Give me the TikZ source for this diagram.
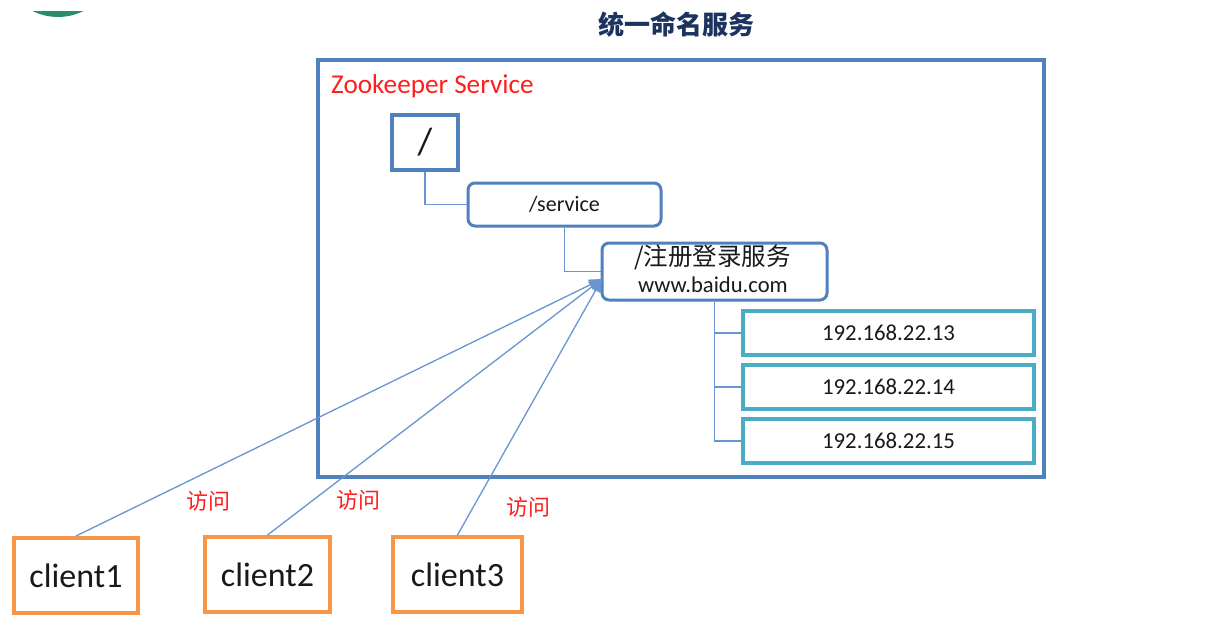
\documentclass[tikz,border=0pt]{standalone}
\usepackage{fontspec}
\setmainfont{Carlito}
\newfontfamily\cjk{Noto Sans CJK SC}
\usetikzlibrary{arrows.meta}
\definecolor{zkblue}{RGB}{79,129,189}
\definecolor{lnblue}{RGB}{105,150,210}
\definecolor{ipteal}{RGB}{75,172,198}
\definecolor{clorange}{RGB}{247,150,70}
\definecolor{titlenavy}{RGB}{28,50,95}
\definecolor{logogreen}{RGB}{40,140,110}
\definecolor{redtxt}{RGB}{255,30,30}
\definecolor{txtblack}{RGB}{25,25,25}
\tikzset{
  zkbox/.style={draw=zkblue, line width=3pt, inner sep=0pt},
  roundbox/.style={draw=zkblue, line width=3pt, rounded corners=7pt, inner sep=0pt, fill=white},
  ipbox/.style={draw=ipteal, line width=4pt, inner sep=0pt, minimum width=291pt, minimum height=44pt,
     font=\fontsize{22.8}{26}\selectfont, text=txtblack},
  clbox/.style={draw=clorange, line width=4pt, inner sep=0pt, minimum height=75pt,
     font=\fontsize{34}{40}\selectfont, text=txtblack},
  conn/.style={draw=lnblue, line width=1.3pt},
  acc/.style={draw=lnblue, line width=1.3pt, -{Triangle[length=13pt,width=11pt]}},
  redlabel/.style={text=redtxt, font=\cjk\fontsize{22}{24}\selectfont, inner sep=0pt},
}
\begin{document}
\begin{tikzpicture}[x=1pt,y=-1pt]
\useasboundingbox[fill=white] (0,0) rectangle (1214,621);
% logo fragment
\begin{scope}
  \clip (0,11) rectangle (140,30);
  \fill[logogreen] (58,-40) circle (57);
\end{scope}
% title
\node[text=titlenavy, font=\cjk\bfseries\fontsize{26}{30}\selectfont, inner sep=0pt] (title) at (676,25) {统一命名服务};
% outer service box
\node[zkbox, line width=3.6pt, minimum width=726pt, minimum height=417pt] (zk) at (681,268.5) {};
\node[text=redtxt, font=\fontsize{27.2}{30}\selectfont, anchor=base west, inner sep=0pt] (zklabel) at (331,93) {Zookeeper Service};
% tree nodes
\node[zkbox, line width=3.5pt, minimum width=66pt, minimum height=55pt, font=\fontsize{38}{40}\selectfont, text=txtblack] (root) at (425,142.5) {/};
\node[roundbox, minimum width=193pt, minimum height=43pt, font=\fontsize{22}{26}\selectfont, text=txtblack] (service) at (564.5,204.5) {/service};
\node[roundbox, minimum width=225pt, minimum height=57pt] (reg) at (714.5,271.5) {};
\node[inner sep=0pt, font=\cjk\fontsize{24.5}{28}\selectfont, text=txtblack] (regname) at (712.5,257) {/注册登录服务};
\node[inner sep=0pt, font=\fontsize{22.6}{26}\selectfont, text=txtblack] (regurl) at (713,284.5) {www.baidu.com};
\node[ipbox] (ip1) at (888.5,333) {192.168.22.13};
\node[ipbox] (ip2) at (888.5,387) {192.168.22.14};
\node[ipbox] (ip3) at (888.5,441) {192.168.22.15};
% tree connectors
\draw[conn] (root.south) |- (service.west);
\draw[conn] (service.south) |- (reg.west);
\draw[conn] (reg.south) |- (ip1.west);
\draw[conn] (reg.south) |- (ip2.west);
\draw[conn] (reg.south) |- (ip3.west);
% clients
\node[clbox, minimum width=124pt] (c1) at (76,575.5) {client1};
\node[clbox, minimum width=125pt] (c2) at (267.5,574.5) {client2};
\node[clbox, minimum width=129pt] (c3) at (457.5,574.5) {client3};
\coordinate (tip) at (602,279);
\draw[acc] (c1.north) -- (tip);
\draw[acc] (c2.north) -- (tip);
\draw[acc] (c3.north) -- (tip);
\node[redlabel] (l1) at (208,501) {访问};
\node[redlabel] (l2) at (358,500) {访问};
\node[redlabel] (l3) at (528,507) {访问};
\end{tikzpicture}
\end{document}
